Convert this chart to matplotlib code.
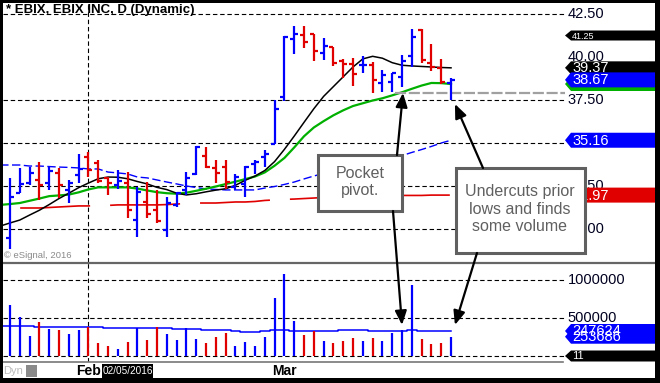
import numpy as np
import matplotlib
matplotlib.use('Agg')
import matplotlib.pyplot as plt
from matplotlib.patches import Rectangle, Polygon, FancyArrowPatch

plt.rcParams['font.family'] = ['Liberation Sans', 'DejaVu Sans']

# daily bars, EBIX, 20 Jan - 23 Mar 2016 (bar 0 is the partly hidden one before)
prev_close = 30.06
opens = [29.48, 32.10, 32.70, 32.85, 32.70, 33.26, 32.27, 33.14, 34.20, 33.84,
         32.97, 32.56, 32.67, 30.52, 31.57, 31.10, 29.94, 31.40, 32.27, 33.20,
         34.24, 33.55, 33.60, 32.44, 32.62, 33.78, 34.19, 34.94, 37.67, 41.05,
         41.28, 41.34, 40.23, 40.58, 39.77, 39.59, 39.53, 39.53, 38.49, 38.55,
         38.84, 40.06, 41.57, 39.65, 39.36, 38.49]
highs = [32.97, 33.55, 33.60, 33.90, 33.66, 33.55, 32.85, 34.36, 34.45, 34.01,
         33.02, 33.43, 33.31, 32.44, 32.73, 32.27, 31.86, 32.15, 33.31, 34.83,
         34.77, 34.01, 34.01, 33.20, 33.66, 34.01, 34.59, 37.50, 41.22, 41.80,
         41.80, 41.34, 41.10, 40.58, 39.88, 39.94, 40.06, 39.71, 39.24, 39.07,
         40.12, 41.63, 41.63, 40.76, 39.88, 38.78]
lows = [28.84, 32.09, 32.56, 31.69, 32.27, 31.80, 31.51, 32.67, 33.00, 32.67,
        31.98, 32.33, 30.64, 29.53, 30.64, 30.35, 29.53, 31.28, 31.98, 33.14,
        33.55, 32.67, 32.33, 32.27, 31.86, 33.20, 33.60, 34.94, 37.44, 40.17,
        40.52, 39.77, 39.83, 39.48, 38.78, 38.31, 39.07, 37.91, 37.97, 37.97,
        38.26, 39.42, 39.65, 39.19, 38.43, 37.50]
closes = [31.86, 32.62, 33.26, 32.55, 33.40, 32.56, 32.67, 33.49, 33.45, 32.79,
          32.67, 32.79, 31.10, 32.15, 30.87, 30.47, 31.51, 32.09, 32.97, 34.77,
          33.60, 33.26, 32.73, 33.02, 33.60, 33.90, 34.36, 36.98, 41.16, 41.34,
          40.87, 40.35, 40.64, 39.65, 39.59, 39.01, 39.53, 38.66, 38.95, 39.07,
          39.77, 41.16, 39.83, 39.42, 38.55, 38.67]
volume = [670000, 509000, 263000, 447000, 355000, 342000, 289000, 342000, 382000, 175000,
          132000, 92000, 184000, 368000, 211000, 382000, 289000, 211000, 368000, 224000,
          171000, 250000, 303000, 132000, 189000, 132000, 254000, 768000, 1079000, 461000,
          276000, 329000, 202000, 175000, 202000, 241000, 202000, 241000, 202000, 307000,
          342000, 934000, 224000, 158000, 175000, 253686]

# moving averages, bar 0 .. bar 46
ma_black = [30.17, 30.35, 30.52, 30.81, 31.09, 31.42, 31.77, 32.08, 32.40, 32.67,
            32.92, 33.02, 33.01, 32.92, 32.76, 32.62, 32.42, 32.29, 32.08, 31.98,
            32.05, 32.16, 32.26, 32.34, 32.54, 32.83, 33.08, 33.40, 33.92, 34.63,
            35.40, 36.20, 36.99, 37.71, 38.28, 38.85, 39.42, 39.89, 40.04, 39.93,
            39.67, 39.52, 39.48, 39.45, 39.42, 39.39, 39.37]
ma_green = [31.40, 31.45, 31.51, 31.64, 31.77, 31.91, 31.95, 32.00, 32.13, 32.30,
            32.42, 32.42, 32.42, 32.42, 32.35, 32.24, 32.14, 32.08, 32.05, 32.11,
            32.22, 32.34, 32.47, 32.61, 32.75, 32.90, 33.05, 33.29, 33.68, 34.13,
            34.74, 35.39, 35.90, 36.27, 36.61, 36.90, 37.15, 37.31, 37.47, 37.60,
            37.77, 37.95, 38.15, 38.34, 38.49, 38.48, 38.43]
ma_blue = [33.72, 33.72, 33.72, 33.66, 33.66, 33.63, 33.60, 33.58, 33.55, 33.49,
           33.49, 33.31, 33.26, 33.20, 33.02, 32.97, 32.85, 32.73, 32.62, 32.50,
           32.41, 32.33, 32.30, 32.27, 32.27, 32.27, 32.27, 32.38, 32.47, 32.59,
           32.73, 32.91, 33.08, 33.23, 33.37, 33.52, 33.66, 33.81, 33.92, 34.04,
           34.16, 34.27, 34.45, 34.62, 34.80, 35.00, 35.16]
ma_red = [31.16, 31.19, 31.22, 31.22, 31.22, 31.25, 31.28, 31.31, 31.34, 31.34,
          31.37, 31.37, 31.40, 31.40, 31.40, 31.40, 31.40, 31.42, 31.45, 31.48,
          31.51, 31.51, 31.51, 31.54, 31.57, 31.57, 31.60, 31.66, 31.69, 31.72,
          31.74, 31.77, 31.80, 31.83, 31.86, 31.86, 31.89, 31.89, 31.92, 31.92,
          31.92, 31.95, 31.95, 31.95, 31.97, 31.97, 31.97]
vol_ma = [395000, 395000, 395000, 390000, 385000, 385000, 382000, 382000, 382000, 382000,
          382000, 368000, 368000, 368000, 368000, 368000, 368000, 368000, 355000, 355000,
          355000, 342000, 342000, 342000, 329000, 316000, 316000, 329000, 342000, 342000,
          335000, 329000, 329000, 329000, 329000, 342000, 342000, 342000, 335000, 329000,
          329000, 335000, 342000, 335000, 329000, 329000, 329000]

price_grid = [42.5, 37.5, 35.0, 32.5, 30.0]
price_labels = [42.5, 40.0, 37.5, 32.5, 30.0]   # 35.00 sits fully under the 35.16 tag
vol_grid = [1000000, 500000, 0]
vol_labels = [1000000, 500000]
month_idx = [9, 29]
month_names = ['Feb', 'Mar']
cursor_idx = 13
cursor_date = '02/05/2016'
prior_low = 37.91
prior_low_from = 40.3
upper_band = 41.25
vol_ma_text = '247624'
other_val = 11

BLUE = '#0000ff'
RED = '#e00000'
GREEN = '#00b000'

W, H = 660, 383
fig = plt.figure(figsize=(W / 100, H / 100), dpi=100)


def frac(x0, y0, x1, y1):
    return [x0 / W, 1 - y1 / H, (x1 - x0) / W, (y1 - y0) / H]


ax = fig.add_axes(frac(3, 3, 565, 262))
axv = fig.add_axes(frac(3, 262, 565, 362))
ov = fig.add_axes([0, 0, 1, 1])
ov.set_xlim(0, W)
ov.set_ylim(H, 0)
ov.axis('off')
ov.set_zorder(10)
ov.patch.set_visible(False)

for a in (ax, axv):
    a.axis('off')
    a.set_xlim(0.286, 57.63)
ax.set_ylim(28.08, 43.14)
axv.set_ylim(-78947, 1236842)

idx = np.arange(1, len(closes) + 1)
ma_idx = np.arange(0, len(ma_black))
prev = np.r_[prev_close, closes[:-1]]
col = np.where(np.array(closes) > prev, BLUE, RED)

grid_ls = (0, (4, 2.5))
for g in price_grid:
    ax.axhline(g, color='black', lw=0.8, ls=grid_ls, zorder=1)
for g in vol_grid:
    axv.axhline(g, color='black', lw=0.8, ls=grid_ls, zorder=1)
ax.axvline(month_idx[0], color='black', lw=0.8, ls=grid_ls, zorder=1)
axv.axvline(month_idx[0], color='black', lw=0.8, ls=grid_ls, zorder=1)

# moving averages
ax.plot(ma_idx, ma_red, color=RED, lw=1.2, ls=(42, (42, 12)), zorder=2)
ax.plot(ma_idx, ma_blue, color=BLUE, lw=1.0, ls=(0, (6, 2.5)), zorder=2)
ax.plot(ma_idx, ma_green, color=GREEN, lw=1.6, zorder=2)
ax.plot(ma_idx, ma_black, color='black', lw=1.1, zorder=2)
ax.hlines(prior_low, prior_low_from, 57.63, colors='#a0a0a0', lw=1.6,
          linestyles=[(0, (5, 1.2))], zorder=2.5)

# OHLC bars
ax.vlines(idx, lows, highs, colors=col, lw=1.6, zorder=3)
ax.hlines(opens, idx - 0.4, idx, colors=col, lw=1.6, zorder=3)
ax.hlines(closes, idx, idx + 0.4, colors=col, lw=1.6, zorder=3)

# volume
axv.vlines(idx, 0, volume, colors=col, lw=1.6, zorder=3)
axv.plot(ma_idx, vol_ma, color=BLUE, lw=1.1, drawstyle='steps-mid', zorder=2)

# right scale
ytr = ax.get_yaxis_transform()
for v in price_labels:
    ax.text(1.005, v, f'{v:.2f}', transform=ytr, va='center', ha='left',
            fontsize=10.5, color='#000020', clip_on=False)
vtr = axv.get_yaxis_transform()
for v in vol_labels:
    axv.text(1.005, v, f'{v}', transform=vtr, va='center', ha='left',
             fontsize=10.5, color='#000020', clip_on=False)


def px(a, x, y):
    dx, dy = a.transData.transform((x, y))
    return dx, H - dy


def tag(a, val, text, fc, fs=10.5, h=14, z=3):
    _, y = px(a, 0, val)
    x0 = 565
    ov.add_patch(Polygon([[x0, y], [x0 + 6, y - h / 2], [655, y - h / 2],
                          [655, y + h / 2], [x0 + 6, y + h / 2]],
                         closed=True, fc=fc, ec='none', zorder=z))
    ov.text(x0 + 7, y + 0.5, text, color='white', fontsize=fs, va='center',
            ha='left', zorder=z + 0.5)


tag(ax, upper_band, f'{upper_band:.2f}', 'black', fs=6.5, h=10)
tag(ax, ma_black[-1], f'{ma_black[-1]:.2f}', 'black', h=13)
tag(ax, ma_green[-1], '', GREEN, h=14)
tag(ax, closes[-1], f'{closes[-1]:.2f}', BLUE, h=15)
tag(ax, ma_blue[-1], f'{ma_blue[-1]:.2f}', BLUE, h=15)
tag(ax, ma_red[-1], f'{ma_red[-1]:.2f}', RED, h=15)
tag(axv, vol_ma[-1], vol_ma_text, BLUE, h=14)
tag(axv, volume[-1], f'{volume[-1]}', BLUE, h=14)
tag(axv, other_val, f'{other_val}', 'black', fs=8, h=11)

# annotation boxes and arrows
box_kw = dict(fc='white', ec='#606060', lw=2.2, zorder=5)
txt_kw = dict(ha='center', va='center', fontsize=11.5, color='#606060',
              linespacing=1.2, zorder=6)
ov.add_patch(Rectangle((318, 155), 84, 56, **box_kw))
ov.text(360, 182, 'Pocket\npivot.', **txt_kw)
ov.add_patch(Rectangle((456, 168), 129, 85, **box_kw))
ov.text(520, 209, 'Undercuts prior\nlows and finds\nsome volume', **txt_kw)

arrow_style = '-|>,head_length=0.6,head_width=0.25'
arrows = [((397, 155), px(ax, 41.1, prior_low)),
          ((393, 211), px(axv, 41.0, 408000)),
          ((483, 168), px(ax, 46.4, 37.27)),
          ((477, 253), px(axv, 46.4, 408000))]
for start, end in arrows:
    ov.add_patch(FancyArrowPatch(start, end, arrowstyle=arrow_style,
                                 mutation_scale=14, color='black', lw=1.6,
                                 shrinkA=0, shrinkB=0, zorder=7))

# header, footer, separators
ov.text(6, 10, '* EBIX, EBIX INC, D (Dynamic)', fontsize=9.5, fontweight='bold',
        va='center', ha='left', color='black')
ov.text(4, 255, '\u00a9 eSignal, 2016', fontsize=6.8, color='#8a8a8a',
        va='center', ha='left')
ov.plot([3, 655], [262.5, 262.5], color='#666666', lw=1.6)
ov.plot([3, 563], [362, 362], color='#777777', lw=1.2)

ov.text(3, 371, 'Dyn', fontsize=8, color='#bbbbbb', va='center', ha='left')
ov.add_patch(Rectangle((26, 365), 11, 12, fc='#8a8a8a', ec='none'))
for m, name in zip(month_idx, month_names):
    mx, _ = px(ax, m, 30)
    ov.text(mx, 371, name, fontsize=10, fontweight='bold', va='center',
            ha='center', color='black')
cx, _ = px(ax, cursor_idx, 30)
ov.add_patch(Rectangle((cx - 25.5, 364), 51, 14, fc='black', ec='none'))
ov.text(cx, 371, cursor_date, fontsize=7.2, color='white', va='center',
        ha='center')

# outer frame
for r in [(0, 0, W, 2.5), (0, 0, 3, H), (655, 0, 5, H), (0, 378, W, 5)]:
    ov.add_patch(Rectangle((r[0], r[1]), r[2], r[3], fc='black', ec='none',
                           zorder=8))

fig.savefig('out.png', dpi=100, facecolor='white')
